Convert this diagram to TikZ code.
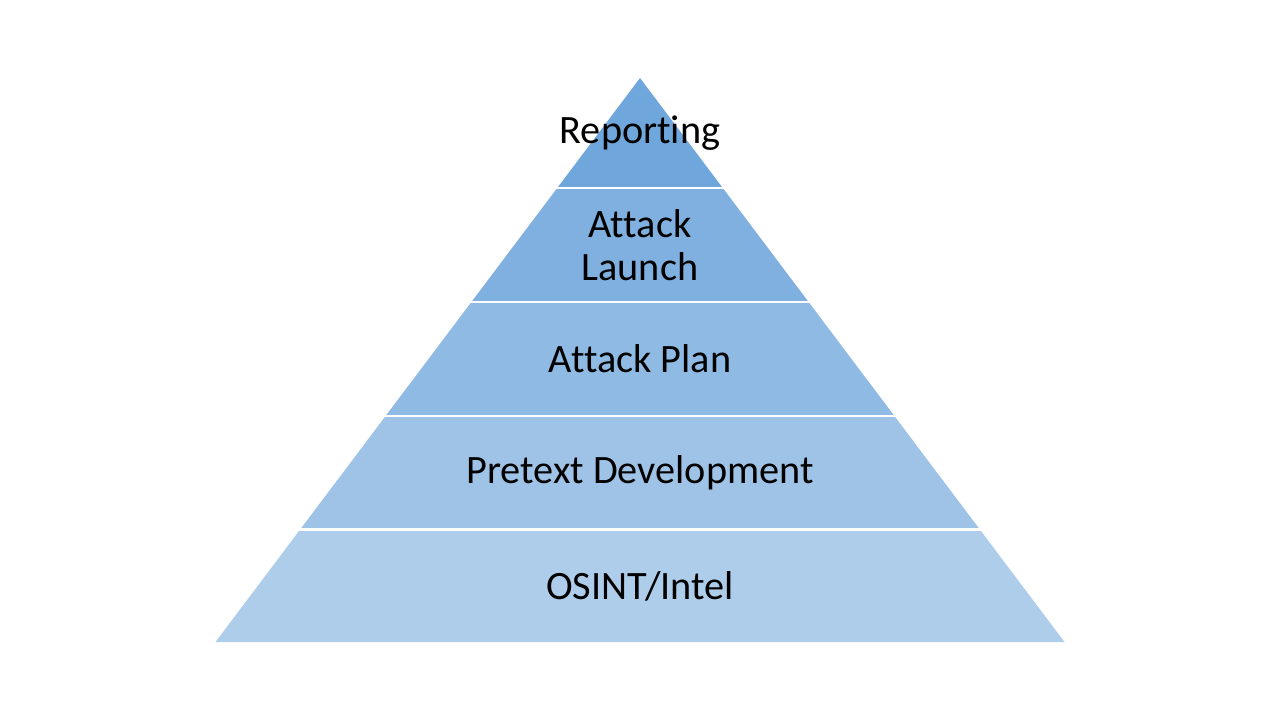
\documentclass[tikz,border=0pt]{standalone}
\usepackage{fontspec}
\setmainfont[Ligatures=NoCommon]{Carlito}
\usetikzlibrary{calc,positioning}

\definecolor{layerA}{HTML}{6FA7DC}
\definecolor{layerB}{HTML}{7FB0E0}
\definecolor{layerC}{HTML}{8FBAE3}
\definecolor{layerD}{HTML}{9FC3E7}
\definecolor{layerE}{HTML}{AECDEB}

\begin{document}
\begin{tikzpicture}[x=0.75pt, y=-0.75pt, every node/.style={font=\fontsize{30.2}{32.5}\selectfont, align=center}]
	\useasboundingbox (0,0) rectangle (1280,720);
	\coordinate (apex) at (640,78);
	\coordinate (bl) at (215.5,642);
	\coordinate (br) at (1064.5,642);
	
	% pyramid layers, top to bottom
	\foreach \a/\b/\col in {0/0.195/layerA, 0.195/0.397/layerB, 0.397/0.599/layerC, 0.599/0.801/layerD, 0.801/1/layerE}
		\fill[\col] ($(apex)!\a!(bl)$) -- ($(apex)!\b!(bl)$) -- ($(apex)!\b!(br)$) -- ($(apex)!\a!(br)$) -- cycle;
	
	% white gaps between layers
	\foreach \a in {0.195, 0.397, 0.599, 0.801}
		\draw[white, line width=2pt] ($(apex)!\a!(bl)+(-3,0)$) -- ($(apex)!\a!(br)+(3,0)$);
	
	\node (rep) at (640,133) {Reporting};
	\node (launch) at (640,245) {Attack\\Launch};
	\node (plan) at (640,359) {Attack Plan};
	\node (pretext) at (640,473) {Pretext Development};
	\node (osint) at (640,586) {OSINT/Intel};
\end{tikzpicture}
\end{document}
